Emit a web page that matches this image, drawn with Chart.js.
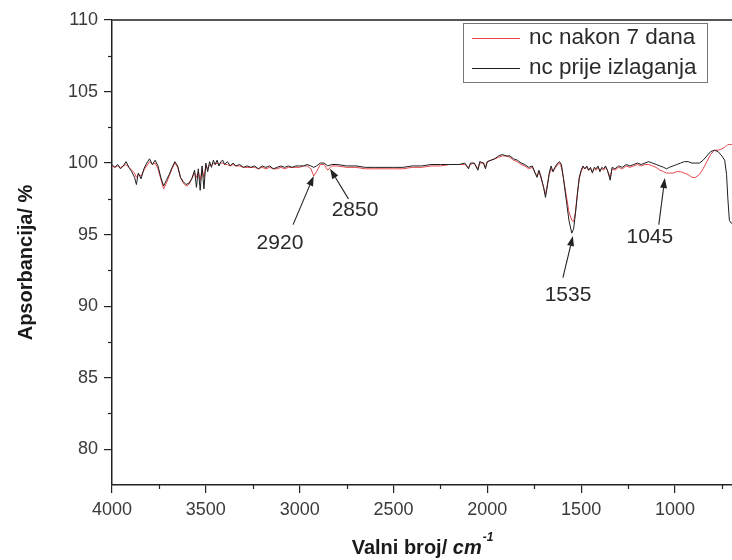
<!DOCTYPE html>
<html><head><meta charset="utf-8">
<script src="https://cdn.jsdelivr.net/npm/chart.js@4.4.1/dist/chart.umd.min.js"></script>
<style>html,body{margin:0;padding:0;background:#fff}canvas{display:block}</style>
</head><body>
<canvas id="c" width="732" height="560"></canvas>
<script>
// ---- data ----
const wavenumbers = [4000,3985,3970,3955,3940,3925,3910,3895,3880,3870,3860,3845,3830,3815,3800,3785,3770,3755,3740,3725,3710,3695,3680,3665,3650,3635,3620,3605,3590,3575,3560,3550,3540,3530,3520,3510,3500,3490,3480,3470,3460,3450,3440,3430,3420,3410,3400,3385,3370,3355,3340,3320,3300,3280,3260,3240,3220,3200,3180,3160,3140,3120,3100,3080,3060,3040,3020,3000,2980,2960,2940,2925,2910,2890,2870,2850,2830,2800,2750,2700,2650,2600,2550,2500,2450,2400,2350,2300,2250,2200,2150,2120,2100,2090,2070,2050,2040,2020,2010,2000,1980,1960,1940,1920,1900,1880,1860,1840,1820,1800,1780,1760,1745,1735,1725,1715,1700,1690,1680,1670,1660,1650,1640,1625,1615,1605,1595,1580,1565,1550,1540,1530,1520,1510,1500,1490,1480,1470,1460,1450,1440,1430,1420,1410,1400,1390,1380,1370,1360,1345,1335,1320,1300,1280,1260,1240,1220,1200,1180,1160,1140,1120,1100,1080,1060,1045,1030,1010,990,970,950,930,910,890,870,850,830,810,790,770,750,735,725,718,710,700,696];
const nakon7Dana = [99.8,99.7,99.8,99.7,99.8,99.9,99.7,99.5,99.3,99.0,99.2,99.1,99.5,99.8,100.1,99.9,100.0,99.6,98.9,98.2,98.6,99.1,99.6,100.0,99.7,99.0,98.6,98.4,98.5,98.9,99.3,99.0,99.4,98.8,99.6,99.0,99.8,99.6,99.9,99.8,100.0,99.9,100.0,99.9,100.0,100.0,99.9,99.9,99.8,99.9,99.8,99.8,99.7,99.7,99.7,99.7,99.6,99.7,99.6,99.7,99.6,99.6,99.7,99.6,99.7,99.7,99.7,99.7,99.8,99.8,99.6,99.1,99.4,99.9,99.9,99.5,99.8,99.8,99.7,99.7,99.6,99.6,99.6,99.6,99.6,99.7,99.7,99.8,99.8,99.9,99.9,99.9,99.7,99.9,100.0,99.6,100.0,100.0,99.7,100.1,100.2,100.3,100.4,100.5,100.5,100.4,100.2,100.1,99.9,99.8,99.6,99.7,99.3,99.1,99.4,99.0,98.3,97.8,98.5,99.2,99.6,99.4,99.6,99.9,100.0,99.7,99.0,97.8,96.6,96.0,95.9,96.6,97.9,98.9,99.4,99.7,99.6,99.7,99.5,99.6,99.4,99.6,99.5,99.7,99.5,99.6,99.5,99.7,99.5,99.0,99.6,99.5,99.7,99.6,99.8,99.7,99.8,99.9,99.8,99.9,99.9,99.8,99.7,99.5,99.4,99.3,99.3,99.3,99.4,99.4,99.3,99.2,99.0,99.0,99.2,99.6,100.1,100.6,100.9,100.9,101.0,101.1,101.2,101.3,101.3,101.3,101.3];
const prijeIzlaganja = [99.9,99.7,99.9,99.6,99.8,100.1,99.7,99.4,99.0,98.5,99.3,98.9,99.6,100.0,100.3,99.9,100.2,99.8,99.0,98.4,98.8,99.2,99.7,100.1,99.8,99.0,98.7,98.5,98.6,98.9,99.5,98.3,99.6,98.1,99.8,98.2,100.0,99.4,100.1,99.7,100.2,99.9,100.2,99.8,100.1,100.2,99.9,100.1,99.8,100.0,99.8,99.9,99.7,99.8,99.7,99.8,99.6,99.8,99.7,99.8,99.6,99.7,99.8,99.7,99.8,99.7,99.8,99.8,99.8,99.9,99.8,99.7,99.8,100.0,100.0,99.8,99.9,99.9,99.8,99.8,99.7,99.7,99.7,99.7,99.7,99.8,99.8,99.9,99.9,99.9,99.9,100.0,99.6,100.0,100.0,99.5,100.1,100.0,99.6,100.1,100.2,100.3,100.5,100.6,100.5,100.5,100.3,100.2,100.0,99.9,99.7,99.8,99.3,99.0,99.5,99.1,98.3,97.6,98.4,99.3,99.8,99.4,99.7,100.0,100.1,99.9,99.0,97.5,96.0,95.1,95.4,96.5,97.8,99.0,99.5,99.8,99.6,99.8,99.5,99.7,99.3,99.7,99.6,99.8,99.4,99.7,99.6,99.8,99.5,98.8,99.7,99.6,99.8,99.7,99.9,99.8,99.9,100.0,99.9,100.0,100.1,100.0,99.9,99.8,99.7,99.6,99.7,99.8,99.9,100.0,100.1,100.1,100.0,100.0,100.0,100.2,100.5,100.8,100.9,100.8,100.5,100.2,99.2,97.5,96.0,95.8,95.8];
const seriesNames = ['nc nakon 7 dana', 'nc prije izlaganja'];
const seriesColors = ['#e8474c', '#1e1e1e'];
const xMajorTicks = [4000,3500,3000,2500,2000,1500,1000];
const xMinorTicks = [3750,3250,2750,2250,1750,1250,750];
const yMajorTicks = [80,85,90,95,100,105,110];
const yMinorTicks = [82.5,87.5,92.5,97.5,102.5,107.5];
const peakLabels = ['2920','2850','1535','1045'];
const peakTips   = [[2925,99.1],[2838,99.6],[1544,94.9],[1054,98.95]];
const peakTails  = [[3035,95.7],[2740,97.5],[1597,92.0],[1086,95.7]];
const peakText   = [[3105,94.4],[2705,96.7],[1570,90.8],[1134,94.8]];
const xTitle = 'Valni broj/ ';
const xTitleUnit = 'cm';
const xTitleSup = '-1';
const yTitle = 'Apsorbancija/ %';

const FONT = '"Liberation Sans", Arial, sans-serif';
const toPts = arr => wavenumbers.map((w, i) => ({x: w, y: arr[i]}));

const decor = {
  id: 'decor',
  afterDraw(chart) {
    const {ctx, chartArea: a, scales: {x, y}} = chart;
    ctx.save();
    // top frame line
    ctx.strokeStyle = '#555'; ctx.lineWidth = 2;
    ctx.beginPath(); ctx.moveTo(a.left, a.top); ctx.lineTo(a.right, a.top); ctx.stroke();
    // minor ticks
    ctx.strokeStyle = '#222'; ctx.lineWidth = 1.2;
    xMinorTicks.forEach(v => { const px = Math.round(x.getPixelForValue(v)) + 0.5;
      ctx.beginPath(); ctx.moveTo(px, a.bottom); ctx.lineTo(px, a.bottom + 4); ctx.stroke(); });
    yMinorTicks.forEach(v => { const py = Math.round(y.getPixelForValue(v)) + 0.5;
      ctx.beginPath(); ctx.moveTo(a.left - 4, py); ctx.lineTo(a.left, py); ctx.stroke(); });
    // peak annotations
    ctx.fillStyle = '#222'; ctx.strokeStyle = '#222'; ctx.lineWidth = 1.1;
    peakLabels.forEach((lab, i) => {
      const tx = x.getPixelForValue(peakTips[i][0]), ty = y.getPixelForValue(peakTips[i][1]);
      const sx = x.getPixelForValue(peakTails[i][0]), sy = y.getPixelForValue(peakTails[i][1]);
      const ang = Math.atan2(ty - sy, tx - sx);
      const hl = 10, hw = 3.5;
      ctx.beginPath(); ctx.moveTo(sx, sy);
      ctx.lineTo(tx - Math.cos(ang) * hl, ty - Math.sin(ang) * hl); ctx.stroke();
      ctx.beginPath(); ctx.moveTo(tx, ty);
      ctx.lineTo(tx - Math.cos(ang) * hl - Math.sin(ang) * hw, ty - Math.sin(ang) * hl + Math.cos(ang) * hw);
      ctx.lineTo(tx - Math.cos(ang) * hl + Math.sin(ang) * hw, ty - Math.sin(ang) * hl - Math.cos(ang) * hw);
      ctx.closePath(); ctx.fill();
      ctx.font = '21px ' + FONT; ctx.textAlign = 'center'; ctx.textBaseline = 'middle';
      ctx.fillStyle = '#2a2a2a';
      ctx.fillText(lab, x.getPixelForValue(peakText[i][0]), y.getPixelForValue(peakText[i][1]));
      ctx.fillStyle = '#222';
    });
    // legend
    const lx = a.right - 269, ly = a.top + 3, lw = 244, lh = 59;
    ctx.fillStyle = '#fff'; ctx.fillRect(lx, ly, lw, lh);
    ctx.strokeStyle = '#777'; ctx.lineWidth = 1;
    ctx.strokeRect(lx + 0.5, ly + 0.5, lw, lh);
    ctx.font = '22.5px ' + FONT; ctx.textAlign = 'left'; ctx.textBaseline = 'middle';
    seriesNames.forEach((n, i) => {
      const ry = ly + 15 + i * 30;
      ctx.strokeStyle = seriesColors[i]; ctx.lineWidth = 1.2;
      ctx.beginPath(); ctx.moveTo(lx + 9, ry + 0.5); ctx.lineTo(lx + 57, ry + 0.5); ctx.stroke();
      ctx.fillStyle = '#2a2a2a'; ctx.fillText(n, lx + 66, ry);
    });
    // axis titles
    ctx.fillStyle = '#1a1a1a';
    ctx.save();
    ctx.translate(26, (a.top + a.bottom) / 2 + 10);
    ctx.rotate(-Math.PI / 2);
    ctx.font = 'bold 20px ' + FONT; ctx.textAlign = 'center'; ctx.textBaseline = 'middle';
    ctx.fillText(yTitle, 0, 0);
    ctx.restore();
    ctx.font = 'bold 20px ' + FONT;
    const w1 = ctx.measureText(xTitle).width;
    ctx.font = 'bold italic 20px ' + FONT;
    const w2 = ctx.measureText(xTitleUnit).width;
    ctx.font = 'bold italic 12px ' + FONT;
    const w3 = ctx.measureText(xTitleSup).width;
    let cx = (a.left + a.right) / 2 - (w1 + w2 + w3) / 2;
    const cy = 548;
    ctx.textAlign = 'left'; ctx.textBaseline = 'middle';
    ctx.font = 'bold 20px ' + FONT; ctx.fillText(xTitle, cx, cy); cx += w1;
    ctx.font = 'bold italic 20px ' + FONT; ctx.fillText(xTitleUnit, cx, cy); cx += w2;
    ctx.font = 'bold italic 12px ' + FONT; ctx.fillText(xTitleSup, cx + 1, cy - 10);
    ctx.restore();
  }
};

new Chart(document.getElementById('c'), {
  type: 'line',
  data: {
    datasets: [
      {label: seriesNames[1], data: toPts(prijeIzlaganja), borderColor: seriesColors[1], borderWidth: 1, pointRadius: 0, tension: 0},
      {label: seriesNames[0], data: toPts(nakon7Dana), borderColor: seriesColors[0], borderWidth: 1, pointRadius: 0, tension: 0}
    ]
  },
  options: {
    responsive: false, animation: false, devicePixelRatio: 1,
    layout: {padding: {top: 20, right: 0, left: 0, bottom: 0}},
    plugins: {legend: {display: false}, tooltip: {enabled: false}},
    scales: {
      x: {
        type: 'linear', reverse: true, min: 696, max: 4000,
        afterBuildTicks: s => { s.ticks = xMajorTicks.map(v => ({value: v})); },
        afterFit: s => { s.height = 75; },
        grid: {drawOnChartArea: false, drawTicks: true, tickLength: 8, color: '#222', lineWidth: 1.2},
        border: {display: true, color: '#222', width: 1.5},
        ticks: {font: {family: FONT, size: 18}, color: '#3a3a3a', padding: 6, maxRotation: 0, callback: v => String(v)}
      },
      y: {
        min: 77.5, max: 110,
        afterBuildTicks: s => { s.ticks = yMajorTicks.map(v => ({value: v})); },
        afterFit: s => { s.width = 112; },
        grid: {drawOnChartArea: false, drawTicks: true, tickLength: 8, color: '#222', lineWidth: 1.2},
        border: {display: true, color: '#222', width: 1.5},
        ticks: {font: {family: FONT, size: 18}, color: '#3a3a3a', padding: 6, callback: v => String(v)}
      }
    }
  },
  plugins: [decor]
});
</script>
</body></html>
